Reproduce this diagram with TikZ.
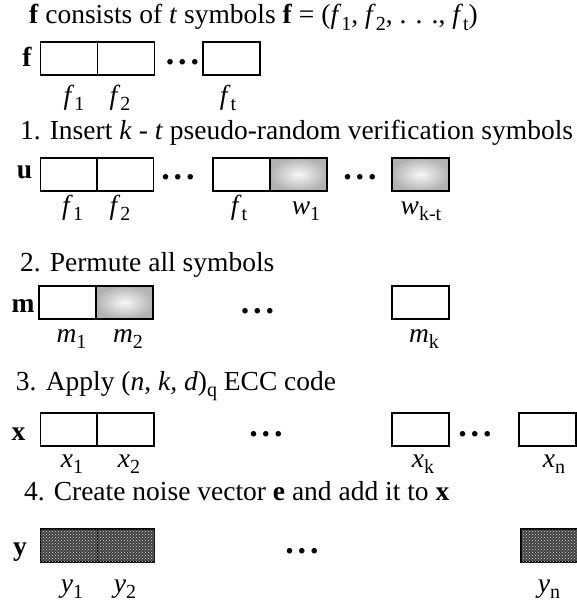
\documentclass[tikz,border=0pt]{standalone}
\usepackage{fontspec}
\setmainfont{Liberation Serif}
\usetikzlibrary{patterns}
\newcommand\sbs[1]{\raisebox{-0.24em}{\fontsize{20}{20}\selectfont #1}}
\newcommand\mydots{{\fontsize{34}{34}\selectfont\textbf{.}\hspace{4pt}\textbf{.}\hspace{4pt}\textbf{.}}}
\tikzset{
  base/.style={font=\fontsize{27.5}{33}\selectfont, inner sep=0pt, outer sep=0pt},
  title/.style={base, anchor=base west},
  lab/.style={base, anchor=base},
  vec/.style={base, anchor=base, font=\fontsize{27.5}{33}\selectfont\bfseries},
  dotsnode/.style={base, anchor=base},
  cell/.style={draw, line width=1.4pt, minimum width=57pt, minimum height=33pt,
    inner sep=0pt, outer sep=0pt, anchor=north west},
  shadecell/.style={cell, inner color=gray!5, outer color=gray!60},
  noisecell/.style={cell, fill=black!75, postaction={pattern=crosshatch dots, pattern color=white!85!black}},
}
\begin{document}
\begin{tikzpicture}[x=1pt,y=-1pt]
\useasboundingbox (0,0) rectangle (577,602);
% ---------- row f
\node[title] (t0) at (29,24) {\textbf{f} consists of \textit{t} symbols \textbf{f} = (\textit{f}\sbs{1}, \textit{f}\sbs{2}, . . ., \textit{f}\sbs{t})};
\node[vec] (vf) at (27,66.5) {f};
\node[cell] (f1) at (40.7,42) {};
\node[cell] (f2) at (97.3,42) {};
\node[dotsnode] (fd) at (182.5,65) {\mydots};
\node[cell] (f3) at (203,42) {};
\node[lab] (lf1) at (74,104) {\textit{f}\sbs{1}};
\node[lab] (lf2) at (120,104) {\textit{f}\sbs{2}};
\node[lab] (lf3) at (228,104) {\textit{f}\sbs{t}};
% ---------- row u
\node[title] (t1) at (20,139) {1. Insert \textit{k} - \textit{t} pseudo-random verification symbols};
\node[vec] (vu) at (24.5,178) {u};
\node[cell] (u1) at (40.7,158) {};
\node[cell] (u2) at (96.7,158) {};
\node[dotsnode] (ud1) at (178,179) {\mydots};
\node[cell] (u3) at (213,158) {};
\node[shadecell] (u4) at (270,158) {};
\node[dotsnode] (ud2) at (360,179) {\mydots};
\node[shadecell] (u5) at (392,158) {};
\node[lab] (lu1) at (72.6,214) {\textit{f}\sbs{1}};
\node[lab] (lu2) at (120,214) {\textit{f}\sbs{2}};
\node[lab] (lu3) at (239,214) {\textit{f}\sbs{t}};
\node[lab] (lu4) at (306,214) {\textit{w}\sbs{1}};
\node[lab] (lu5) at (421,214) {\textit{w}\sbs{k-t}};
% ---------- row m
\node[title] (t2) at (20,271) {2. Permute all symbols};
\node[vec] (vm) at (23,312) {m};
\node[cell] (m1) at (39,286) {};
\node[shadecell] (m2) at (96,286) {};
\node[dotsnode] (md) at (257.5,313) {\mydots};
\node[cell] (m3) at (392,286) {};
\node[lab] (lm1) at (71.5,342) {\textit{m}\sbs{1}};
\node[lab] (lm2) at (128,342) {\textit{m}\sbs{2}};
\node[lab] (lm3) at (424,342) {\textit{m}\sbs{k}};
% ---------- row x
\node[title] (t3) at (16,390) {3. Apply (\textit{n}, \textit{k, d})\sbs{q} ECC code};
\node[vec] (vx) at (18.5,440) {x};
\node[cell] (x1) at (40.7,413) {};
\node[cell] (x2) at (97,413) {};
\node[dotsnode] (xd1) at (266,436) {\mydots};
\node[cell] (x3) at (392,413) {};
\node[dotsnode] (xd2) at (475,436) {\mydots};
\node[cell] (x4) at (519,413) {};
\node[lab] (lx1) at (72,467) {\textit{x}\sbs{1}};
\node[lab] (lx2) at (129,467) {\textit{x}\sbs{2}};
\node[lab] (lx3) at (423,467) {\textit{x}\sbs{k}};
\node[lab] (lx4) at (554,467) {\textit{x}\sbs{n}};
% ---------- row y
\node[title] (t4) at (24,500) {4. Create noise vector \textbf{e} and add it to \textbf{x}};
\node[vec] (vy) at (20,555) {y};
\node[noisecell] (y1) at (40.7,529) {};
\node[noisecell] (y2) at (97.3,529) {};
\node[dotsnode] (yd) at (302,553) {\mydots};
\node[noisecell] (y3) at (521,529) {};
\node[lab] (ly1) at (72,592) {\textit{y}\sbs{1}};
\node[lab] (ly2) at (125,592) {\textit{y}\sbs{2}};
\node[lab] (ly3) at (549,592) {\textit{y}\sbs{n}};
\end{tikzpicture}
\end{document}
